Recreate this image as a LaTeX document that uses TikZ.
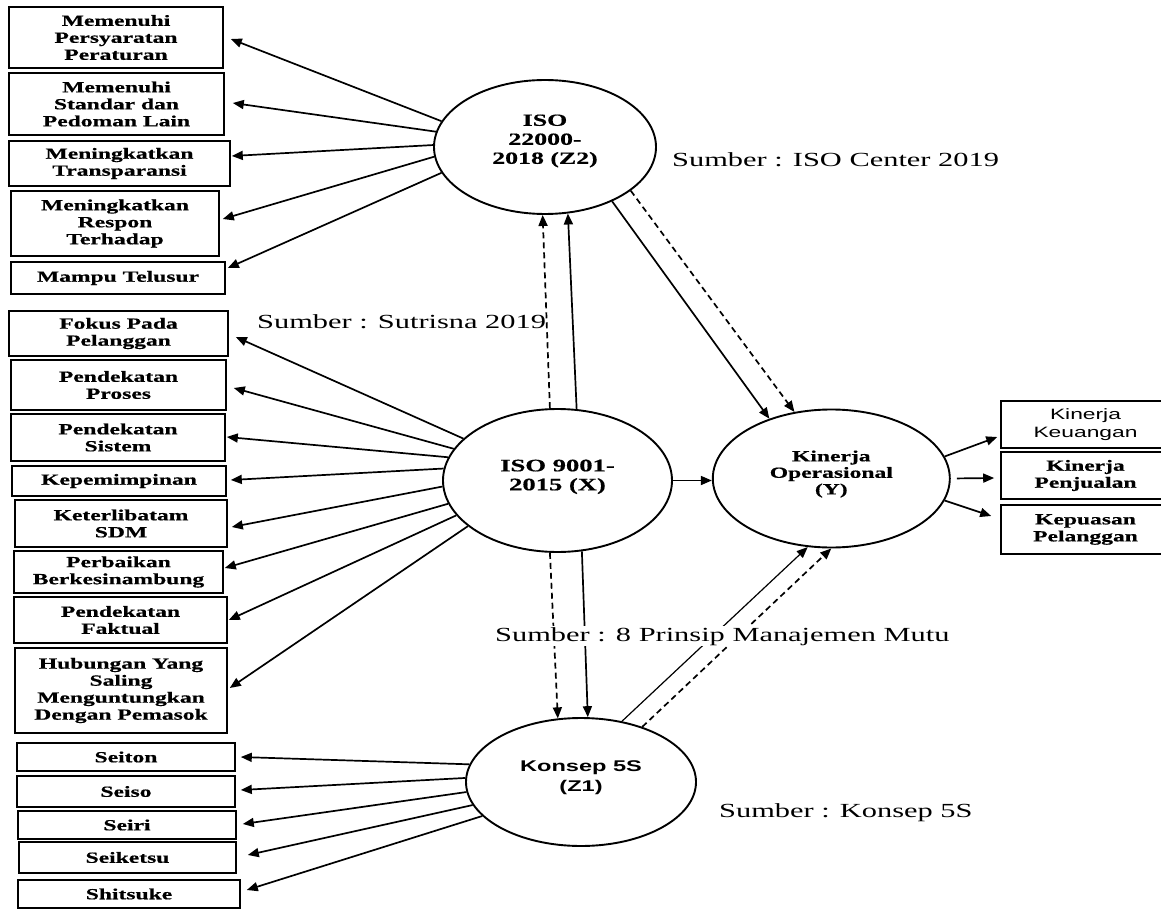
\documentclass[tikz,border=0pt]{standalone}
\usepackage{fontspec}
\setmainfont{Liberation Serif}[FakeStretch=1.52,BoldFeatures={FakeBold=0.6}]
\newfontfamily\sansS{Liberation Sans}[FakeStretch=1.52]
\usetikzlibrary{shapes.geometric,arrows.meta,calc}
\newcommand\rtxt[2]{\raisebox{#1}[\height][\depth]{\begin{tabular}{@{}c@{}}#2\end{tabular}}}
\begin{document}
\begin{tikzpicture}[x=1pt,y=-1pt,
 bx/.style={draw,line width=1.6pt,inner sep=0pt,align=center,font=\fontsize{15.5}{17}\selectfont\bfseries},
 el/.style={draw,ellipse,line width=1.9pt,inner sep=0pt,align=center},
 arr/.style={line width=1.7pt,-{Triangle[length=11pt,width=9pt]}},
 dsh/.style={arr,dash pattern=on 6pt off 4pt},
 src/.style={anchor=base west,inner sep=0pt,font=\fontsize{20}{22}\selectfont}]
\clip (0,0) rectangle (1161,909);
% ellipses
\node[el,minimum width=222pt,minimum height=134pt,font=\fontsize{17}{19}\selectfont\bfseries] (z2) at (545,147) {\rtxt{6pt}{ISO\\22000-\\2018 (Z2)}};
\node[el,minimum width=229pt,minimum height=143pt,font=\fontsize{17.5}{19}\selectfont\bfseries] (x) at (557.5,480.5) {\rtxt{3.5pt}{ISO 9001-\\2015 (X)}};
\node[el,minimum width=237pt,minimum height=138pt,font=\fontsize{15.5}{16.5}\selectfont\bfseries] (y) at (831.3,478.5) {\rtxt{4pt}{Kinerja\\Operasional\\(Y)}};
\node[el,minimum width=230pt,minimum height=128pt,font=\sansS\fontsize{15.5}{20}\selectfont\bfseries] (z1) at (581,782) {\rtxt{5pt}{Konsep 5S\\(Z1)}};
% Z2 boxes
\node[bx,minimum width=214pt,minimum height=61pt] (b1) at (116,37.5) {Memenuhi\\Persyaratan\\Peraturan};
\node[bx,minimum width=215pt,minimum height=62pt] (b2) at (116.5,104) {Memenuhi\\Standar dan\\Pedoman Lain};
\node[bx,minimum width=221pt,minimum height=45pt] (b3) at (119.5,163.5) {Meningkatkan\\Transparansi};
\node[bx,minimum width=208pt,minimum height=65pt] (b4) at (115,223.5) {Meningkatkan\\Respon\\Terhadap};
\node[bx,minimum width=214pt,minimum height=32pt] (b5) at (118,278) {Mampu Telusur};
% X boxes
\node[bx,minimum width=219pt,minimum height=45pt] (p1) at (118.5,333.5) {Fokus Pada\\Pelanggan};
\node[bx,minimum width=215pt,minimum height=50pt] (p2) at (118.5,385) {Pendekatan\\Proses};
\node[bx,minimum width=214pt,minimum height=47pt] (p3) at (118,437.5) {Pendekatan\\Sistem};
\node[bx,minimum width=214pt,minimum height=30pt] (p4) at (119,481) {Kepemimpinan};
\node[bx,minimum width=212pt,minimum height=47pt] (p5) at (121,523.5) {Keterlibatam\\SDM};
\node[bx,minimum width=209pt,minimum height=42pt] (p6) at (118.5,572) {Perbaikan\\Berkesinambung};
\node[bx,minimum width=213pt,minimum height=46pt] (p7) at (120.5,620) {Pendekatan\\Faktual};
\node[bx,minimum width=212pt,minimum height=85pt] (p8) at (121,690.5) {Hubungan Yang\\Saling\\Menguntungkan\\Dengan Pemasok};
% Z1 boxes
\node[bx,minimum width=218pt,minimum height=28pt] (s1) at (126,757) {Seiton};
\node[bx,minimum width=218pt,minimum height=31pt] (s2) at (126,791.5) {Seiso};
\node[bx,minimum width=218pt,minimum height=28pt] (s3) at (127,825) {Seiri};
\node[bx,minimum width=217pt,minimum height=31pt] (s4) at (127.5,857.5) {Seiketsu};
\node[bx,minimum width=222pt,minimum height=28pt] (s5) at (129,894) {Shitsuke};
% Y boxes
\node[bx,minimum width=169pt,minimum height=47pt,font=\sansS\fontsize{15}{18}\selectfont] (r1) at (1085.5,424.5) {Kinerja\\Keuangan};
\node[bx,minimum width=169pt,minimum height=47pt] (r2) at (1085.5,475.5) {Kinerja\\Penjualan};
\node[bx,minimum width=169pt,minimum height=49pt] (r3) at (1085.5,529.5) {Kepuasan\\Pelanggan};
% fan arrows
\draw[arr] (z2.166) -- ($(b1.east)+(7,1.5)$);
\draw[arr] (z2.172) -- ($(b2.east)+(8,-1)$);
\draw[arr] (z2.179) -- ($(b3.east)+(1,-7.5)$);
\draw[arr] (z2.185) -- ($(b4.east)+(3,-4.5)$);
\draw[arr] (z2.194) -- ($(b5.east)+(2,-10)$);
\draw[arr] (x.156) -- ($(p1.east)+(7,3.5)$);
\draw[arr] (x.163) -- ($(p2.east)+(7,3)$);
\draw[arr] (x.168) -- ($(p3.east)+(1,-0.5)$);
\draw[arr] (x.174) -- ($(p4.east)+(4,-1)$);
\draw[arr] (x.183) -- ($(p5.east)+(4,3.5)$);
\draw[arr] (x.192) -- ($(p6.east)+(1,-4)$);
\draw[arr] (x.199) -- ($(p7.east)+(1,0)$);
\draw[arr] (x.207) -- ($(p8.east)+(2,-2.5)$);
\draw[arr] (z1.171) -- ($(s1.east)+(5,0)$);
\draw[arr] (z1.178) -- ($(s2.east)+(5,-1.5)$);
\draw[arr] (z1.185) -- ($(s3.east)+(6,-1)$);
\draw[arr] (z1.192) -- ($(s4.east)+(11,-2.5)$);
\draw[arr] (z1.199) -- ($(s5.east)+(6,-4)$);
\draw[arr] (y.11) -- ($(r1.west)+(-3,12.5)$);
\draw[arr,shorten <=6pt] (y.east) -- ($(r2.west)+(-6,2.5)$);
\draw[arr] (y.349) -- ($(r3.west)+(-9,-13.5)$);
% main relations
\draw[arr] (x.east) -- (x.east -| y.west);
\draw[dsh] (x.96) -- (z2.268);
\draw[arr] (x.75) -- (z2.289);
\draw[arr] (z2.321) -- (y.136);
\draw[dsh] (z2.333) -- (y.119);
\draw[dsh] (x.264) -- (z1.110);
\draw[arr] (x.289) -- (z1.84);
\draw[arr,line width=1.2pt] (z1.56) -- (y.251);
\draw[dsh] (z1.42) -- (y.270);
% sources
\node[src] (l1) at (672,167) {Sumber : ISO Center 2019};
\node[src] (l2) at (257,328) {Sumber : Sutrisna 2019};
\node[src,fill=white,inner sep=1pt] (l3) at (494,641) {Sumber : 8 Prinsip Manajemen Mutu};
\node[src] (l4) at (719,817) {Sumber : Konsep 5S};
\end{tikzpicture}
\end{document}
